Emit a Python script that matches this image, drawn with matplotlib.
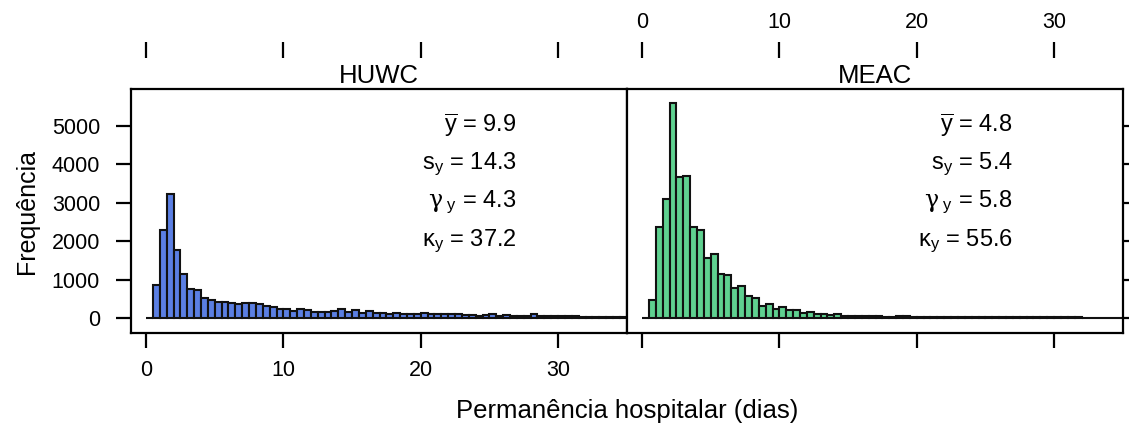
import numpy as np
import matplotlib.pyplot as plt

plt.rcParams['font.family'] = ['Liberation Sans', 'DejaVu Sans']
plt.rcParams['mathtext.fontset'] = 'custom'
plt.rcParams['mathtext.rm'] = 'Liberation Sans'
plt.rcParams['mathtext.it'] = 'Liberation Sans'
plt.rcParams['mathtext.sf'] = 'DejaVu Serif'
plt.rcParams['mathtext.default'] = 'regular'

# frequencies per half-day bin, starting at 0 days
huwc_freq = [0, 877, 2300, 3238, 1762, 1163, 773, 747, 530, 477,
             417, 417, 390, 382, 400, 390, 380, 310, 300, 252,
             250, 200, 230, 205, 165, 156, 175, 195, 235, 175,
             215, 150, 185, 150, 130, 100, 140, 115, 110, 120,
             150, 120, 115, 115, 110, 110, 80, 75, 70, 75,
             105, 65, 95, 65, 60, 70, 120, 70, 60, 55,
             60, 55, 50, 45, 45, 40, 35, 30, 30, 30]
meac_freq = [0, 486, 2361, 3108, 5599, 3663, 3707, 2361, 2283, 1571,
             1658, 1160, 1125, 785, 845, 580, 540, 310, 380, 245,
             295, 225, 210, 125, 165, 120, 113, 95, 104, 70,
             70, 60, 60, 52, 50, 45, 42, 50, 48, 45,
             45, 42, 40, 40, 38, 36, 35, 32, 30, 30,
             30, 28, 28, 27, 26, 25, 25, 25, 24, 24,
             23, 22, 22, 21, 20, 20, 20, 19, 18, 18]
bin_width = 0.5

panels = ['HUWC', 'MEAC']
colors = ['#5b7fe3', '#5fd190']
stats = [['9.9', '14.3', '4.3', '37.2'],
         ['4.8', '5.4', '5.8', '55.6']]
stat_names = [r'$\overline{y}$', r'$s_y$', r'$\mathsf{\gamma}_{\ y}$', r'$\kappa_y$']
stat_y = [5000, 4000, 3000, 2000]

xticks = [0, 10, 20, 30]
yticks = [0, 1000, 2000, 3000, 4000, 5000]

W, H = 1129, 426
fig = plt.figure(figsize=(W / 100, H / 100), dpi=100)

def px_box(x0, x1, y0, y1):
    return [x0 / W, 1 - y1 / H, (x1 - x0) / W, (y1 - y0) / H]

pt = 72 / 100  # points per pixel
axes = [fig.add_axes(px_box(131, 627, 89, 333)),
        fig.add_axes(px_box(627, 1123, 89, 333))]

for i, (ax, name, freq, col) in enumerate(zip(axes, panels, [huwc_freq, meac_freq], colors)):
    left = np.arange(len(freq)) * bin_width
    ax.bar(left, freq, width=bin_width, align='edge', color=col,
           edgecolor='#111111', linewidth=1.5)
    ax.set_xlim(-1.1, 35.02)
    ax.set_ylim(-382, 5956)
    for s in ax.spines.values():
        s.set_linewidth(1.6)

    ax.set_xticks(xticks)
    ax.set_yticks(yticks)
    ax.tick_params(direction='out', length=15 * pt, width=1.6,
                   labelsize=15.5)
    ax.tick_params(axis='y', pad=16 * pt)
    ax.tick_params(axis='x', pad=12 * pt)
    if i == 0:
        ax.tick_params(axis='y', left=True, right=False, labelleft=True)
        ax.tick_params(axis='x', bottom=True, labelbottom=True)
    else:
        ax.tick_params(axis='y', left=False, right=True, labelleft=False,
                       labelright=False)
        ax.tick_params(axis='x', bottom=True, labelbottom=False)

    # tick row above the strip label
    top = ax.secondary_xaxis(1.127)
    top.set_xticks(xticks)
    top.spines['top'].set_visible(False)
    top.tick_params(direction='out', length=16 * pt, width=1.6,
                    labelsize=15.5, pad=9 * pt, labeltop=(i == 1))

    ax.text(0.5, 1.055, name, transform=ax.transAxes, ha='center',
            va='center', fontsize=18.5)

    for lab, val, yy in zip(stat_names, stats[i], stat_y):
        ax.text(27, yy, f'{lab} = {val}', ha='right', va='center',
                fontsize=17)

fig.text(27 / W, 1 - 211 / H, 'Frequência', rotation=90,
         ha='center', va='center', fontsize=18)
fig.text(627 / W, 1 - 411 / H, 'Permanência hospitalar (dias)',
         ha='center', va='center', fontsize=18.5)

fig.savefig('out.png', dpi=100)
